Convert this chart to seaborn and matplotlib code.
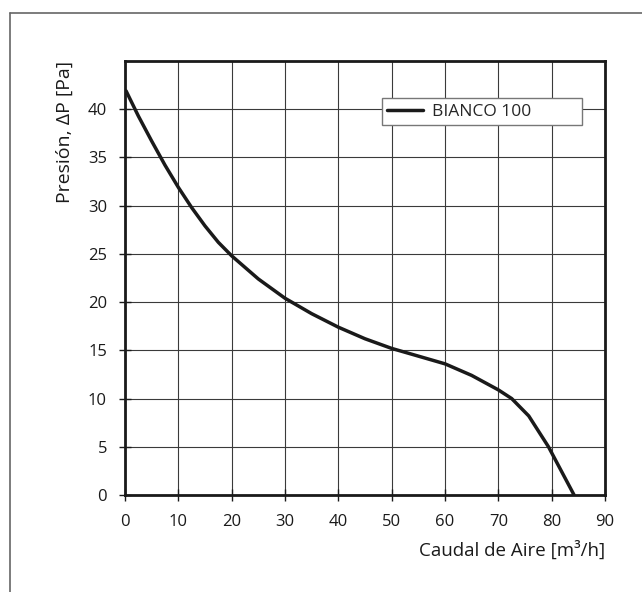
import numpy as np
import pandas as pd
import matplotlib
matplotlib.use("Agg")
import matplotlib.pyplot as plt
from matplotlib.lines import Line2D
import seaborn as sns

# Curve
caudal = [0.2, 2.5, 5, 7.5, 10, 12.5, 15, 17.5, 20, 25, 30, 35, 40, 45,
          50, 55, 60, 65, 70, 72.5, 75.7, 79.4, 84.2]
presion = [41.9, 39.3, 36.7, 34.2, 31.9, 29.8, 27.9, 26.2, 24.8, 22.4, 20.4, 18.8, 17.4, 16.2,
           15.2, 14.4, 13.6, 12.4, 10.9, 10.0, 8.2, 5.0, 0]
serie = "BIANCO 100"

x_ticks = list(range(0, 100, 10))
y_ticks = list(range(0, 45, 5))

df = pd.DataFrame({"Caudal": caudal, "Presion": presion, "Modelo": serie})

sns.set_style("ticks")
plt.rcParams["font.family"] = ["Open Sans", "DejaVu Sans"]

fig = plt.figure(figsize=(6.42, 5.92), dpi=100)
ax = fig.add_axes([125 / 642, 1 - 495 / 592, 480 / 642, 434 / 592])

sns.lineplot(data=df, x="Caudal", y="Presion", hue="Modelo", palette=["#1a1a1a"],
             linewidth=2.5, ax=ax, sort=False)
for ln in ax.get_lines():
    ln.set_solid_joinstyle("round")

ax.set_xlim(0, 90)
ax.set_ylim(0, 45)
ax.set_xticks(x_ticks)
ax.set_yticks(y_ticks)
ax.grid(True, color="#3a3a3a", linewidth=0.8)
ax.set_axisbelow(True)
for s in ax.spines.values():
    s.set_linewidth(2)
    s.set_color("#1a1a1a")
ax.tick_params(direction="inout", length=8, width=1, labelsize=12, colors="#1a1a1a")
ax.tick_params(axis="x", pad=10)
ax.tick_params(axis="y", pad=9)

ax.set_xlabel("Caudal de Aire [m³/h]", fontsize=13.5, loc="right", labelpad=7, color="#1a1a1a")
ax.set_ylabel("Presión, ΔP [Pa]", fontsize=14, loc="top", labelpad=10, color="#1a1a1a")

# legend box stretched to the width it has in the original
leg = ax.legend(loc="lower left", bbox_to_anchor=(0.535, 0.853, 0.417, 0.0645),
                mode="expand", borderaxespad=0, fancybox=False, framealpha=1,
                edgecolor="#777777", fontsize=12.5, handlelength=2.1,
                borderpad=0.3, handletextpad=0.5)
leg.get_frame().set_linewidth(1)

# outer frame of the original figure
fig.add_artist(Line2D([10.5 / 642, 10.5 / 642], [0, 1 - 13 / 592], color="#666666", lw=1.2))
fig.add_artist(Line2D([10.5 / 642, 1], [1 - 13 / 592, 1 - 13 / 592], color="#666666", lw=1.2))

fig.savefig("out.png", dpi=100)
